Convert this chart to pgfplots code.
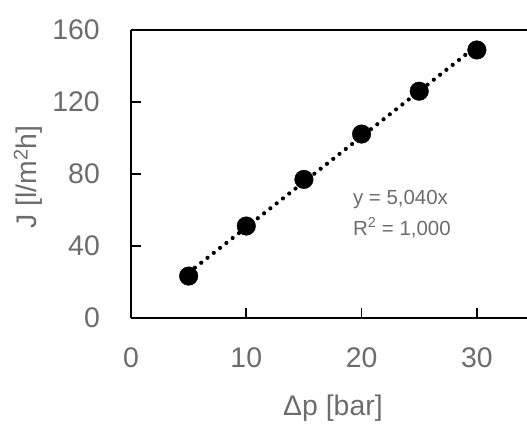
\documentclass[border=0pt]{standalone}
\usepackage{pgfplots}
\pgfplotsset{compat=1.18}
\usepackage{fontspec}
\setmainfont{Liberation Sans}
\definecolor{labelgray}{RGB}{108,108,108}

\begin{document}
\begin{tikzpicture}
\begin{axis}[
  at={(0,0)}, anchor=origin,
  scale only axis,
  width=396bp, height=288bp,
  xmin=0, xmax=34.35,
  ymin=0, ymax=160,
  axis lines=left,
  axis line style={-, line width=1.7bp, black},
  xtick={0,10,20,30},
  ytick={0,40,80,120,160},
  tick align=inside,
  major tick length=10bp,
  tick style={line width=1.7bp, black},
  font=\fontsize{28.5}{32}\selectfont,
  /pgf/number format/assume math mode=true,
  ticklabel style={text=labelgray},
  yticklabel style={inner sep=0pt, xshift=-31bp},
  xticklabel style={inner sep=0pt, yshift=-29bp},
  xlabel={\textcolor{labelgray}{Δp [bar]}},
  ylabel={\textcolor{labelgray}{J [l/m\textsuperscript{2}h]}},
  xlabel style={at={(axis description cs:0.51,-0.3125)}, anchor=center},
  ylabel style={at={(axis description cs:-0.26,0.49)}, anchor=center},
  clip=false,
]
  % linear trendline through the origin, y = 5.040x
  \addplot[black, line width=4.2bp, line cap=round,
           dash pattern=on 0bp off 8bp, no marks]
    coordinates {(5,25.2) (30,151.2)};
  % measured flux
  \addplot[only marks, mark=*, mark size=9.3bp,
           mark options={fill=black, draw=black}]
    coordinates {(5,23.3) (10,51.1) (15,77.0) (20,102.2) (25,126.0) (30,148.9)};
  \draw[line width=1.7bp] (rel axis cs:0,1) -- (rel axis cs:1,1);
  \node[anchor=west, inner sep=0pt, text=labelgray,
        font=\fontsize{20.5}{24}\selectfont] at (axis cs:19.25,65.6) {y = 5,040x};
  \node[anchor=west, inner sep=0pt, text=labelgray,
        font=\fontsize{20.5}{24}\selectfont] at (axis cs:19.25,50.0) {R\textsuperscript{2} = 1,000};
\end{axis}
\pgfresetboundingbox
\path[use as bounding box] (-131bp,-106bp) rectangle (396bp,318bp);
\end{tikzpicture}
\end{document}
